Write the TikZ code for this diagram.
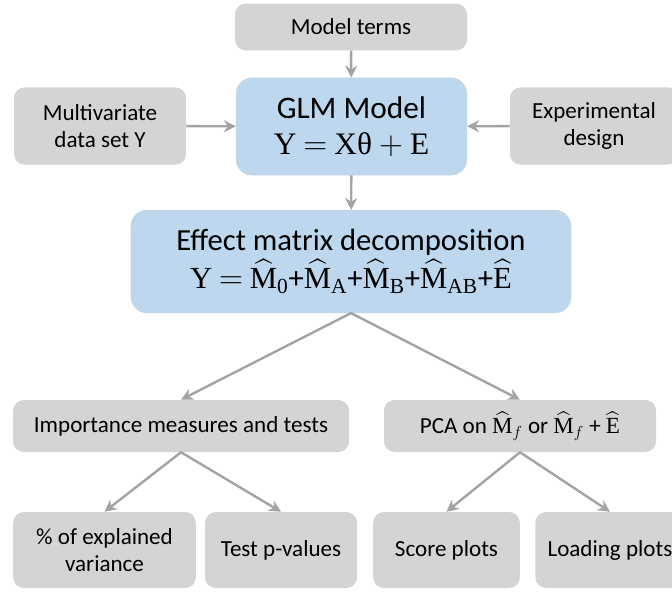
\documentclass[tikz,border=0pt]{standalone}
\usepackage{amsmath,amssymb}
\usepackage[no-math]{fontspec}
\setmainfont{Carlito}
\newfontfamily\eqfont{Liberation Serif}
\newcommand{\eqM}{\text{\eqfont M}}
\newcommand{\eqE}{\text{\eqfont E}}
\newcommand{\eqsub}[1]{\text{\eqfont #1}}
\usepackage{tikz}
\usetikzlibrary{arrows.meta, positioning}
\definecolor{BoxGrey}{HTML}{D4D4D4}
\definecolor{BoxBlue}{HTML}{BDD7EE}
\definecolor{ArrowGrey}{HTML}{A3A3A3}

\begin{document}
\begin{tikzpicture}[x=0.75pt, y=-0.75pt,
    greybox/.style={fill=BoxGrey, rounded corners=8pt, align=center, inner sep=2pt, font=\fontsize{17.3}{20.5}\selectfont},
    bluebox/.style={fill=BoxBlue, draw=BoxBlue!85!black!60, line width=0.4pt, rounded corners=12pt, align=center, inner sep=2pt},
    flow/.style={-{Stealth[length=9pt, width=9pt, inset=3pt]}, line width=1.8pt, ArrowGrey}]
    \useasboundingbox (0,0) rectangle (672,592);
    % Model fitting
    \node[greybox, minimum width=174pt, minimum height=35pt] (terms) at (351,27) {Model terms};
    \node[bluebox, minimum width=173pt, minimum height=73pt, font=\fontsize{23.5}{28}\selectfont] (glm) at (351.5,126.5)
        {GLM Model\\[-1pt] {\eqfont Y} $=$ {\eqfont Xθ} $+$ {\eqfont E}};
    \node[greybox, minimum width=129pt, minimum height=58pt] (data) at (100,126) {Multivariate\\data set Y};
    \node[greybox, minimum width=126pt, minimum height=58pt] (design) at (594,126) {Experimental\\design};
    \node[bluebox, minimum width=330pt, minimum height=77pt, font=\fontsize{23}{27}\selectfont] (effect) at (351,261.5)
        {Effect matrix decomposition\\[1pt]
         {\eqfont Y} $=$ $\widehat{\eqM}_{\eqsub{0}}$+$\widehat{\eqM}_{\eqsub{A}}$+$\widehat{\eqM}_{\eqsub{B}}$+$\widehat{\eqM}_{\eqsub{AB}}$+$\widehat{\eqE}$};
    % Results
    \node[greybox, minimum width=252pt, minimum height=39pt] (tests) at (181,426) {Importance measures and tests};
    \node[greybox, minimum width=204pt, minimum height=39pt] (pca) at (520,426)
        {PCA on $\widehat{\eqM}_f$ or $\widehat{\eqM}_f$ + $\widehat{\eqE}$};
    \node[greybox, minimum width=137pt, minimum height=57pt] (explvar) at (104.5,550) {\% of explained\\variance};
    \node[greybox, minimum width=114pt, minimum height=57pt] (pvalues) at (281,550) {Test p-values};
    \node[greybox, minimum width=110pt, minimum height=57pt] (scores) at (446.5,550) {Score plots};
    \node[greybox, minimum width=112pt, minimum height=57pt] (loadings) at (610,550) {Loading plots};

    \draw[flow] (terms) -- (glm);
    \draw[flow] (data) -- (glm);
    \draw[flow] (design) -- (glm);
    \draw[flow] (glm) -- (effect);
    \draw[flow] (effect.south) -- (tests.north);
    \draw[flow] (effect.south) -- (pca.north);
    \draw[flow] (tests.south) -- (explvar.north);
    \draw[flow] (tests.south) -- (pvalues.north);
    \draw[flow] (pca.south) -- (scores.north);
    \draw[flow] (pca.south) -- (loadings.north);
\end{tikzpicture}
\end{document}
